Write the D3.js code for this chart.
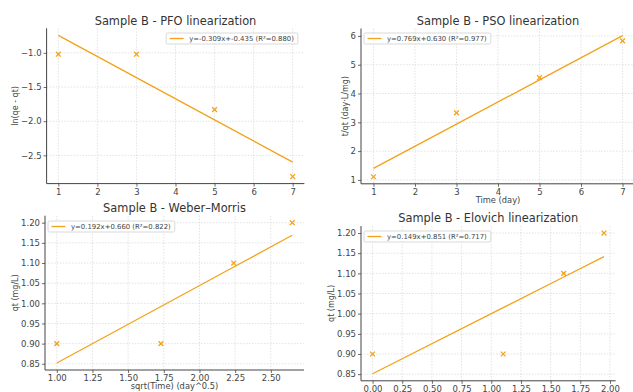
<!DOCTYPE html>
<html>
<head>
<meta charset="utf-8">
<script src="https://cdn.jsdelivr.net/npm/d3@7"></script>
<style>
  html, body { margin: 0; padding: 0; background: #fff; }
  svg { display: block; font-family: "DejaVu Sans", sans-serif; }
</style>
</head>
<body>
<svg id="chart" width="633" height="392"></svg>
<script>
// ---------------- data ----------------
const timeDays = [1, 3, 5, 7];
const pfoY = [-1.02, -1.02, -1.83, -2.81];          // ln(qe - qt)
const psoY = [1.11, 3.33, 4.55, 5.83];              // t/qt
const sqrtTime = [1.00, 1.73, 2.24, 2.65];          // sqrt(t)
const lnTime = [0.00, 1.10, 1.61, 1.95];            // ln(t)
const qtValues = [0.90, 0.90, 1.10, 1.20];          // qt (mg/L)

const titles = ["Sample B - PFO linearization", "Sample B - PSO linearization",
                "Sample B - Weber–Morris", "Sample B - Elovich linearization"];
const slopes = [-0.309, 0.769, 0.192, 0.149];
const intercepts = [-0.435, 0.630, 0.660, 0.851];
const r2Values = [0.880, 0.977, 0.822, 0.717];
const xLabels = [null, "Time (day)", "sqrt(Time) (day^0.5)", null];
const yLabels = ["ln(qe - qt)", "t/qt (day·L/mg)", "qt (mg/L)", "qt (mg/L)"];

const xTicks = [
  [1, 2, 3, 4, 5, 6, 7],
  [1, 2, 3, 4, 5, 6, 7],
  [1.00, 1.25, 1.50, 1.75, 2.00, 2.25, 2.50],
  [0.00, 0.25, 0.50, 0.75, 1.00, 1.25, 1.50, 1.75, 2.00]
];
const yTicks = [
  [-2.5, -2.0, -1.5, -1.0],
  [1, 2, 3, 4, 5, 6],
  [0.85, 0.90, 0.95, 1.00, 1.05, 1.10, 1.15, 1.20],
  [0.85, 0.90, 0.95, 1.00, 1.05, 1.10, 1.15, 1.20]
];
const xFormats = ["d", "d", ".2f", ".2f"];
const yFormats = [".1f", "d", ".2f", ".2f"];
const xSeries = [timeDays, timeDays, sqrtTime, lnTime];
const ySeries = [pfoY, psoY, qtValues, qtValues];

// ---------------- layout ----------------
const panels = [
  { l: 46.6, r: 304.4, t: 28.3, b: 183.6, legend: "right", legY: 33, ylx: 18 },
  { l: 361, r: 635, t: 28.5, b: 183.8, legend: "left", legY: 33, ylx: 348 },
  { l: 45, r: 304, t: 215.7, b: 370, legend: "left", legY: 221, ylx: 18 },
  { l: 361, r: 615.6, t: 226, b: 380.8, legend: "left", legY: 231, ylx: 334 }
];
const COLOR = "#f2a31b";
const svg = d3.select("#chart");
const minusFmt = f => v => d3.format(f)(v).replace("-", "\u2212");

panels.forEach((p, i) => {
  const xs = xSeries[i], ys = ySeries[i];
  const fitY = xs.map(x => slopes[i] * x + intercepts[i]);
  const xe = d3.extent(xs);
  const ye = d3.extent(ys.concat(fitY));
  const xp = (xe[1] - xe[0]) * 0.05, yp = (ye[1] - ye[0]) * 0.05;
  const x = d3.scaleLinear().domain([xe[0] - xp, xe[1] + xp]).range([p.l, p.r]);
  const y = d3.scaleLinear().domain([ye[0] - yp, ye[1] + yp]).range([p.b, p.t]);

  const g = svg.append("g");

  // grid
  g.append("g").selectAll("line").data(xTicks[i]).join("line")
    .attr("x1", d => x(d)).attr("x2", d => x(d))
    .attr("y1", p.t).attr("y2", p.b)
    .attr("stroke", "#d6d6d6").attr("stroke-width", 0.7).attr("stroke-dasharray", "1.5,1.5");
  g.append("g").selectAll("line").data(yTicks[i]).join("line")
    .attr("x1", p.l).attr("x2", p.r)
    .attr("y1", d => y(d)).attr("y2", d => y(d))
    .attr("stroke", "#d6d6d6").attr("stroke-width", 0.7).attr("stroke-dasharray", "1.5,1.5");

  // axes
  const xa = g.append("g").attr("transform", `translate(0,${p.b})`)
    .call(d3.axisBottom(x).tickValues(xTicks[i]).tickFormat(minusFmt(xFormats[i])).tickSize(3).tickPadding(2));
  const ya = g.append("g").attr("transform", `translate(${p.l},0)`)
    .call(d3.axisLeft(y).tickValues(yTicks[i]).tickFormat(minusFmt(yFormats[i])).tickSize(3).tickPadding(2));
  [xa, ya].forEach(a => {
    a.select(".domain").remove();
    a.selectAll(".tick line").attr("stroke", "#444").attr("stroke-width", 0.8);
    a.selectAll(".tick text").attr("fill", "#444").style("font-size", "8.5px")
      .style("font-family", "DejaVu Sans, sans-serif");
  });
  // spines (left & bottom)
  g.append("line").attr("x1", p.l).attr("x2", p.l).attr("y1", p.t).attr("y2", p.b)
    .attr("stroke", "#444").attr("stroke-width", 1);
  g.append("line").attr("x1", p.l).attr("x2", p.r).attr("y1", p.b).attr("y2", p.b)
    .attr("stroke", "#444").attr("stroke-width", 1);

  // fit line
  g.append("path").datum(xs)
    .attr("d", d3.line().x(d => x(d)).y(d => y(slopes[i] * d + intercepts[i])))
    .attr("fill", "none").attr("stroke", COLOR).attr("stroke-width", 1.3);

  // markers (x)
  const s = 2.4;
  g.append("g").selectAll("path").data(xs.map((d, k) => [d, ys[k]])).join("path")
    .attr("d", d => {
      const cx = x(d[0]), cy = y(d[1]);
      return `M${cx - s},${cy - s}L${cx + s},${cy + s}M${cx - s},${cy + s}L${cx + s},${cy - s}`;
    })
    .attr("stroke", COLOR).attr("stroke-width", 1.3).attr("fill", "none");

  // title
  g.append("text").attr("x", (p.l + p.r) / 2).attr("y", p.t - 3.8)
    .attr("text-anchor", "middle").attr("fill", "#333").style("font-size", "11.4px")
    .text(titles[i]);

  // x label
  if (xLabels[i]) {
    g.append("text").attr("x", (p.l + p.r) / 2).attr("y", p.b + 18.7)
      .attr("text-anchor", "middle").attr("fill", "#444").style("font-size", "8.3px")
      .text(xLabels[i]);
  }
  // y label
  g.append("text")
    .attr("transform", `translate(${p.ylx},${(p.t + p.b) / 2}) rotate(-90)`)
    .attr("text-anchor", "middle").attr("fill", "#444").style("font-size", "8px")
    .text(yLabels[i]);

  // legend
  const label = `y=${slopes[i].toFixed(3)}x+${intercepts[i].toFixed(3)} (R²=${r2Values[i].toFixed(3)})`;
  const lg = g.append("g");
  const txt = lg.append("text").style("font-size", "6.9px").attr("fill", "#444").text(label);
  const tw = txt.node().getComputedTextLength();
  const bw = tw + 27, bh = 11;
  const bx = p.legend === "right" ? p.r - 6.5 - bw : p.l + 3;
  const by = p.legY;
  lg.insert("rect", "text").attr("x", bx).attr("y", by).attr("width", bw).attr("height", bh)
    .attr("rx", 1.5).attr("fill", "#fff").attr("fill-opacity", 0.85)
    .attr("stroke", "#cfcfcf").attr("stroke-width", 0.8);
  lg.insert("line", "text").attr("x1", bx + 3.5).attr("x2", bx + 17.5)
    .attr("y1", by + bh / 2).attr("y2", by + bh / 2)
    .attr("stroke", COLOR).attr("stroke-width", 1.3);
  txt.attr("x", bx + 23).attr("y", by + bh / 2 + 2.5);
});
</script>
</body>
</html>
